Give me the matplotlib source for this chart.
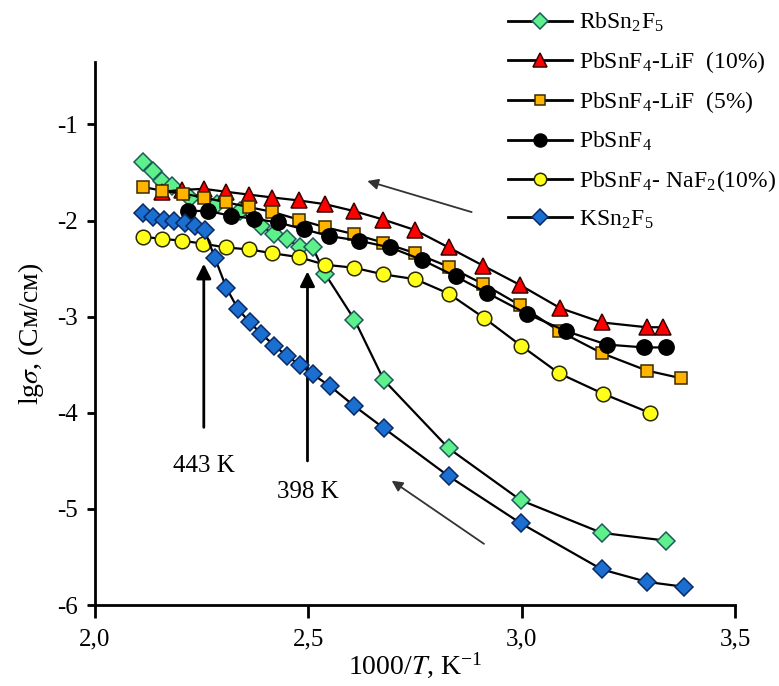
import matplotlib
matplotlib.use("Agg")
import matplotlib.pyplot as plt
from matplotlib.lines import Line2D
from matplotlib.ticker import FuncFormatter

plt.rcParams['font.family'] = ['Liberation Serif', 'DejaVu Serif']
plt.rcParams['mathtext.fontset'] = 'stix'
plt.rcParams['axes.unicode_minus'] = False

# ---------------- data ----------------
rb_x = [2.112, 2.136, 2.158, 2.18, 2.222, 2.285, 2.34, 2.39, 2.42, 2.45, 2.48, 2.51, 2.54,
        2.608, 2.677, 2.829, 2.998, 3.188, 3.338]
rb_y = [-1.39, -1.48, -1.59, -1.64, -1.77, -1.83, -1.90, -2.06, -2.14, -2.19, -2.28, -2.28, -2.56,
        -3.03, -3.66, -4.37, -4.91, -5.25, -5.33]

li10_x = [2.158, 2.205, 2.255, 2.307, 2.361, 2.416, 2.477, 2.54, 2.606, 2.676, 2.751, 2.829,
          2.91, 2.996, 3.09, 3.188, 3.293, 3.332]
li10_y = [-1.70, -1.68, -1.67, -1.70, -1.73, -1.76, -1.79, -1.83, -1.90, -1.99, -2.10, -2.28,
          -2.47, -2.67, -2.91, -3.06, -3.11, -3.11]

li5_x = [2.112, 2.158, 2.207, 2.255, 2.307, 2.361, 2.416, 2.477, 2.54, 2.606, 2.676, 2.751,
         2.829, 2.91, 2.996, 3.088, 3.188, 3.293, 3.373]
li5_y = [-1.65, -1.69, -1.72, -1.76, -1.81, -1.86, -1.91, -1.99, -2.07, -2.14, -2.23, -2.34,
         -2.48, -2.66, -2.88, -3.15, -3.38, -3.56, -3.64]

pb_x = [2.218, 2.265, 2.318, 2.372, 2.429, 2.489, 2.548, 2.619, 2.692, 2.767, 2.845, 2.918,
        3.012, 3.104, 3.199, 3.287, 3.338]
pb_y = [-1.90, -1.90, -1.95, -1.98, -2.02, -2.09, -2.16, -2.21, -2.28, -2.41, -2.58, -2.75,
        -2.97, -3.15, -3.29, -3.32, -3.32]

na_x = [2.113, 2.158, 2.205, 2.253, 2.307, 2.361, 2.416, 2.477, 2.54, 2.606, 2.676, 2.751,
        2.829, 2.911, 2.998, 3.088, 3.19, 3.30]
na_y = [-2.17, -2.19, -2.21, -2.24, -2.28, -2.30, -2.34, -2.38, -2.46, -2.49, -2.56, -2.61,
        -2.76, -3.01, -3.30, -3.59, -3.80, -4.00]

ks_x = [2.112, 2.137, 2.161, 2.185, 2.21, 2.234, 2.257, 2.281, 2.308, 2.335, 2.363, 2.39,
        2.42, 2.45, 2.48, 2.51, 2.55, 2.608, 2.677, 2.829, 2.998, 3.188, 3.294, 3.38]
ks_y = [-1.92, -1.96, -1.99, -2.00, -2.03, -2.06, -2.10, -2.39, -2.70, -2.92, -3.06, -3.18,
        -3.30, -3.41, -3.50, -3.60, -3.72, -3.93, -4.16, -4.66, -5.15, -5.63, -5.76, -5.81]

labels = [r'RbSn$_\mathregular{2}$F$_\mathregular{5}$',
          r'PbSnF$_\mathregular{4}$-LiF  (10%)',
          r'PbSnF$_\mathregular{4}$-LiF  (5%)',
          r'PbSnF$_\mathregular{4}$',
          r'PbSnF$_\mathregular{4}$- NaF$_\mathregular{2}$(10%)',
          r'KSn$_\mathregular{2}$F$_\mathregular{5}$']

y_ticks = [-1, -2, -3, -4, -5, -6]
x_ticks = [2.0, 2.5, 3.0, 3.5]
#----------------------------------------------

fig = plt.figure(figsize=(7.79, 6.86), dpi=100)
ax = fig.add_axes([95/779, 1-605/686, 640/779, (605-62)/686])

series = [
    (rb_x, rb_y, 'D', 9, '#5ef08a', '#1e5a5a'),
    (li10_x, li10_y, '^', 12, '#ff0000', '#3a0000'),
    (li5_x, li5_y, 's', 9, '#ffb400', '#3a2a00'),
    (pb_x, pb_y, 'o', 11, '#000000', '#000000'),
    (na_x, na_y, 'o', 10.5, '#ffff1a', '#2a2a00'),
    (ks_x, ks_y, 'D', 9, '#1a6fd1', '#0a2a66'),
]

handles = []
for i, (x, y, m, ms, fc, ec) in enumerate(series):
    ax.plot(x, y, color='black', lw=1.6, zorder=2 + i)
    ax.plot(x, y, ls='none', marker=m, ms=ms, mfc=fc, mec=ec, mew=1.1, zorder=2 + i)
    handles.append(Line2D([0], [0], color='black', lw=2, marker=m, ms=ms * 0.85,
                          mfc=fc, mec=ec, mew=1.1))

ax.set_xlim(2.0, 3.5)
ax.set_ylim(-6, -0.35)
ax.set_xticks(x_ticks)
ax.set_yticks(y_ticks)
ax.xaxis.set_major_formatter(FuncFormatter(lambda v, p: f'{v:.1f}'.replace('.', ',')))
ax.yaxis.set_major_formatter(FuncFormatter(lambda v, p: f'{int(v)}'))
for s in ['top', 'right']:
    ax.spines[s].set_visible(False)
for s in ['left', 'bottom']:
    ax.spines[s].set_linewidth(2)
ax.tick_params(axis='both', direction='out', width=2, labelsize=18)
ax.tick_params(axis='x', length=9, pad=8)
ax.tick_params(axis='y', length=6, pad=6)

ax.set_xlabel(r'1000/$T$, K$^\mathregular{-1}$', fontsize=20, labelpad=0)
ax.set_ylabel(r'lg$\sigma$, (См/см)', fontsize=20, labelpad=8)

# temperature arrows
ax.annotate('', xy=(2.255, -2.42), xytext=(2.255, -4.18),
            arrowprops=dict(arrowstyle='-|>', lw=2, color='black', mutation_scale=22))
ax.text(2.255, -4.55, '443 K', fontsize=18, ha='center', va='center')
ax.annotate('', xy=(2.498, -2.50), xytext=(2.498, -4.53),
            arrowprops=dict(arrowstyle='-|>', lw=2, color='black', mutation_scale=22))
ax.text(2.498, -4.82, '398 K', fontsize=18, ha='center', va='center')

# direction arrows
ax.annotate('', xy=(2.632, -1.58), xytext=(2.889, -1.92),
            arrowprops=dict(arrowstyle='-|>', lw=1.3, color='#333333', mutation_scale=16))
ax.annotate('', xy=(2.69, -4.69), xytext=(2.917, -5.38),
            arrowprops=dict(arrowstyle='-|>', lw=1.3, color='#333333', mutation_scale=16))

fig.legend(handles, labels, loc='upper left', bbox_to_anchor=(508/779, 1-11/686),
           frameon=False, fontsize=17, handlelength=2.7, handletextpad=0.3,
           labelspacing=0.62, borderpad=0, borderaxespad=0)

fig.savefig('out.png', dpi=100)
